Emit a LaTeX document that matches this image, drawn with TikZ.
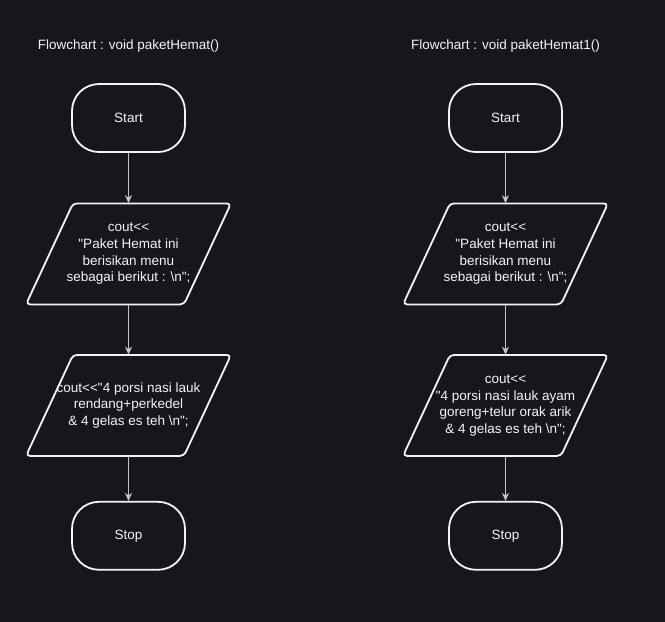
\documentclass[tikz,border=0pt]{standalone}
\usepackage{fontspec}
\setmainfont{Liberation Sans}
\usetikzlibrary{matrix,arrows.meta,positioning}
\definecolor{bgdark}{RGB}{24,21,29}
\definecolor{inkwhite}{RGB}{244,244,244}
\definecolor{linkgray}{RGB}{196,196,196}
\newcommand{\ampsign}{\char38\relax}
\newcommand{\nl}{\textbackslash n}
\newcommand{\ltlt}{<\kern0pt<}
\newcommand{\qq}{\textquotedbl}

\begin{document}
\begin{tikzpicture}[
  x=1pt, y=-1pt,
  font=\fontsize{13.5}{16.6}\selectfont,
  every matrix/.style={ampersand replacement=\&,column sep=172pt,row sep=50.5pt},
  title/.style={text=inkwhite},
  terminal/.style={draw=inkwhite,line width=1.8pt,rounded corners=27pt,
    minimum width=113pt,minimum height=68pt,text=inkwhite},
  output/.style={inner sep=0pt,minimum width=205pt,minimum height=101pt,text=inkwhite},
  iobox/.style={draw=inkwhite,line width=1.8pt,rounded corners=4pt},
  to/.style={-{Stealth[length=8pt,width=7pt,inset=2.5pt]},draw=linkgray,line width=1.2pt},
  every node/.style={align=center}]

  % Background and page size
  \fill[bgdark] (0,0) rectangle (665,622);

  % Both flowcharts side by side in a matrix
  \matrix[matrix anchor=startA.center] at (128.5,118) {
      \node[title] (titleA) {Flowchart : void paketHemat()};
      \& \node[title] (titleB) {Flowchart : void paketHemat1()}; \\[-23.5pt]

      \node[terminal] (startA) {Start};
      \& \node[terminal] (startB) {Start}; \\

      \node[output] (coutA1) {cout\ltlt\\\qq Paket Hemat ini\\berisikan menu\\sebagai berikut : \nl\qq;};
      \& \node[output] (coutB1) {cout\ltlt\\\qq Paket Hemat ini\\berisikan menu\\sebagai berikut : \nl\qq;}; \\

      \node[output] (coutA2) {cout\ltlt\qq 4 porsi nasi lauk\\rendang+perkedel\\\ampsign{} 4 gelas es teh \nl\qq;};
      \& \node[output] (coutB2) {cout\ltlt\\\qq 4 porsi nasi lauk ayam\\goreng+telur orak arik\\\ampsign{} 4 gelas es teh \nl\qq;}; \\[-5.5pt]

      \node[terminal] (stopA) {Stop};
      \& \node[terminal] (stopB) {Stop}; \\
  };

  % Parallelogram outlines round the output nodes
  \foreach \n in {coutA1,coutA2,coutB1,coutB2}
    \draw[iobox] ([shift={(-102.5,50.5)}]\n.center) -- ([shift={(55.5,50.5)}]\n.center)
      -- ([shift={(102.5,-50.5)}]\n.center) -- ([shift={(-55.5,-50.5)}]\n.center) -- cycle;

  % Connectors
  \draw[to] (startA) -- (coutA1);
  \draw[to] (coutA1) -- (coutA2);
  \draw[to] (coutA2) -- (stopA);
  \draw[to] (startB) -- (coutB1);
  \draw[to] (coutB1) -- (coutB2);
  \draw[to] (coutB2) -- (stopB);

\end{tikzpicture}
\end{document}
